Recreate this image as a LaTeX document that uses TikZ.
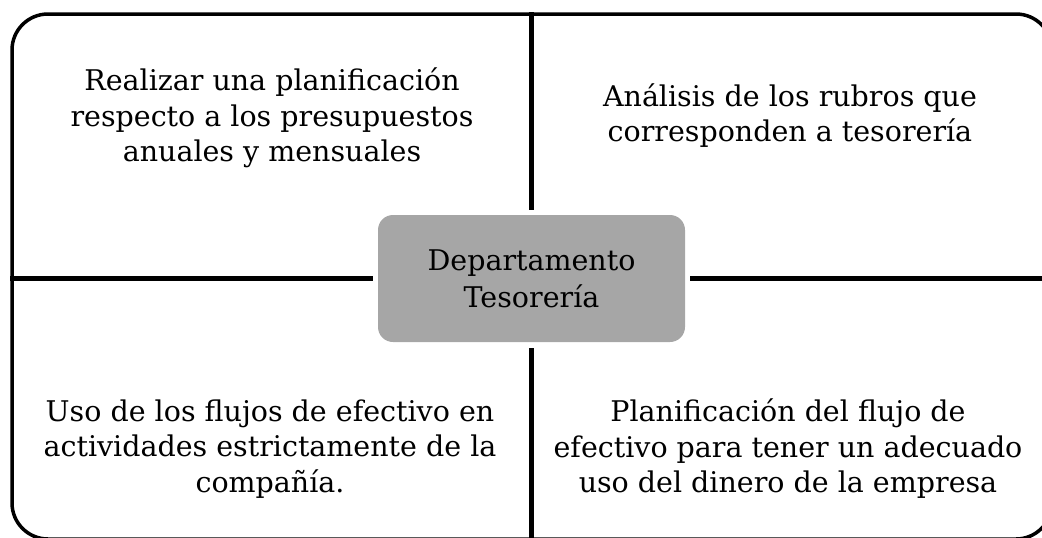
\documentclass[tikz,border=0pt]{standalone}
\usepackage{fontspec}
\setmainfont{DejaVu Serif}
\definecolor{boxgray}{RGB}{166,166,166}

\begin{document}
\begin{tikzpicture}[x=1pt,y=-1pt,
  divider/.style={line width=5pt},
  quad/.style={align=center,inner sep=0pt,font=\fontsize{28.5}{35.5}\selectfont}]
\useasboundingbox (0,0) rectangle (1042,538);
\clip (0,0) rectangle (1042,538);

% --- frame and central box ---
\node[overlay,draw,line width=3.5pt,rounded corners=36pt,inner sep=0pt,
  minimum width=1040pt,minimum height=525pt] (frame) at (532,276.5) {};
\node[quad,font=\fontsize{28.5}{37}\selectfont,fill=boxgray,rounded corners=15pt,
  minimum width=307pt,minimum height=127pt] (dept) at (531.5,278.5)
  {Departamento\\Tesorería};

% --- dividers, from the box out to the frame ---
\draw[divider,shorten <=5pt] (dept.north) -- (dept.north |- frame.north);
\draw[overlay,divider,shorten <=6pt] (dept.south) -- (dept.south |- frame.south);
\draw[divider,shorten <=5pt] (dept.west) -- (dept.west -| frame.west);
\draw[overlay,divider,shorten <=5pt] (dept.east) -- (dept.east -| frame.east);

% --- the four quadrants ---
\node[quad] (plan) at (272,118)
  {Realizar una planificación\\respecto a los presupuestos\\anuales y mensuales};
\node[quad] (rubros) at (790,115.5)
  {Análisis de los rubros que\\corresponden a tesorería};
\node[quad] (flujos) at (270,449)
  {Uso de los flujos de efectivo en\\actividades estrictamente de la\\compañía.};
\node[quad] (dinero) at (788,449)
  {Planificación del flujo de\\efectivo para tener un adecuado\\uso del dinero de la empresa};

\end{tikzpicture}
\end{document}
